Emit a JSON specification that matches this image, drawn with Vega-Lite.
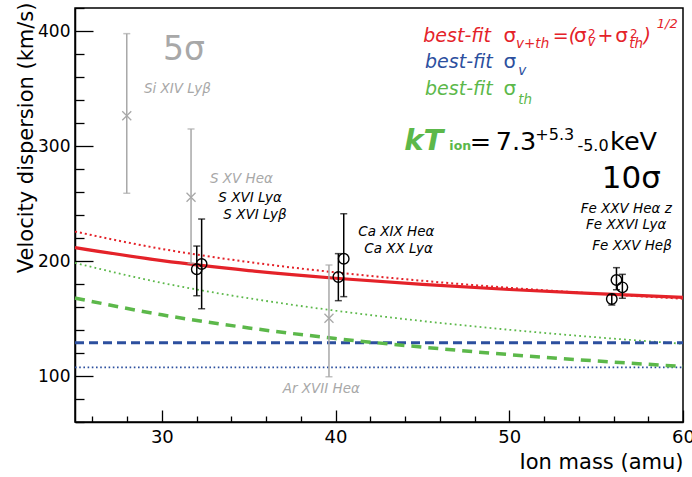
{
  "$schema": "https://vega.github.io/schema/vega-lite/v6.json",
  "width": 608,
  "height": 414,
  "autosize": {"type": "none"},
  "padding": {"left": 75, "top": 8, "right": 9, "bottom": 55},
  "background": "white",
  "config": {
    "font": "DejaVu Sans",
    "view": {"stroke": "black", "strokeWidth": 1.5},
    "text": {"align": "left", "baseline": "alphabetic", "font": "DejaVu Sans"}
  },
  "datasets": {
    "curves": [
      {"curve": "th_bound", "mass": 25, "disp": 198.3},
      {"curve": "th_bound", "mass": 30, "disp": 181.0},
      {"curve": "th_bound", "mass": 35, "disp": 167.6},
      {"curve": "th_bound", "mass": 40, "disp": 156.8},
      {"curve": "th_bound", "mass": 45, "disp": 147.8},
      {"curve": "th_bound", "mass": 50, "disp": 140.2},
      {"curve": "th_bound", "mass": 55, "disp": 133.7},
      {"curve": "th_bound", "mass": 60, "disp": 128.0},
      {"curve": "v_bound", "mass": 25, "disp": 107.5},
      {"curve": "v_bound", "mass": 60, "disp": 107.5},
      {"curve": "sum_bound", "mass": 25, "disp": 225.6},
      {"curve": "sum_bound", "mass": 30, "disp": 210.5},
      {"curve": "sum_bound", "mass": 35, "disp": 199.1},
      {"curve": "sum_bound", "mass": 40, "disp": 190.1},
      {"curve": "sum_bound", "mass": 45, "disp": 182.8},
      {"curve": "sum_bound", "mass": 50, "disp": 176.7},
      {"curve": "sum_bound", "mass": 55, "disp": 171.6},
      {"curve": "sum_bound", "mass": 60, "disp": 167.2},
      {"curve": "v", "mass": 25, "disp": 129},
      {"curve": "v", "mass": 60, "disp": 129},
      {"curve": "th", "mass": 25, "disp": 167.8},
      {"curve": "th", "mass": 30, "disp": 153.2},
      {"curve": "th", "mass": 35, "disp": 141.8},
      {"curve": "th", "mass": 40, "disp": 132.6},
      {"curve": "th", "mass": 45, "disp": 125.1},
      {"curve": "th", "mass": 50, "disp": 118.6},
      {"curve": "th", "mass": 55, "disp": 113.1},
      {"curve": "th", "mass": 60, "disp": 108.3},
      {"curve": "sum", "mass": 25, "disp": 211.7},
      {"curve": "sum", "mass": 30, "disp": 200.3},
      {"curve": "sum", "mass": 35, "disp": 191.7},
      {"curve": "sum", "mass": 40, "disp": 185.0},
      {"curve": "sum", "mass": 45, "disp": 179.7},
      {"curve": "sum", "mass": 50, "disp": 175.2},
      {"curve": "sum", "mass": 55, "disp": 171.6},
      {"curve": "sum", "mass": 60, "disp": 168.4}
    ],
    "lines": [
      {"line": "Si XIV Lyβ", "grp": "5σ", "mass": 27.98, "disp": 326.3, "lo": 258.9, "hi": 397.7},
      {"line": "S XV Heα", "grp": "5σ", "mass": 31.68, "disp": 255.4, "lo": 198.0, "hi": 314.8},
      {"line": "Ar XVII Heα", "grp": "5σ", "mass": 39.62, "disp": 150.2, "lo": 99.4, "hi": 196.5},
      {"line": "S XVI Lyα", "grp": "10σ", "mass": 32.01, "disp": 192.8, "lo": 169.8, "hi": 213.0},
      {"line": "S XVI Lyβ", "grp": "10σ", "mass": 32.29, "disp": 197.4, "lo": 158.5, "hi": 236.5},
      {"line": "Ca XIX Heα", "grp": "10σ", "mass": 40.16, "disp": 186.1, "lo": 165.5, "hi": 206.4},
      {"line": "Ca XX Lyα", "grp": "10σ", "mass": 40.47, "disp": 202.0, "lo": 169.0, "hi": 241.1},
      {"line": "Fe XXV Heβ", "grp": "10σ", "mass": 55.90, "disp": 167.0, "lo": 161.7, "hi": 171.0},
      {"line": "Fe XXV Heα z", "grp": "10σ", "mass": 56.17, "disp": 183.5, "lo": 175.0, "hi": 194.2},
      {"line": "Fe XXVI Lyα", "grp": "10σ", "mass": 56.51, "disp": 177.1, "lo": 167.6, "hi": 188.4}
    ],
    "notes": [
      {"role": "word", "grp": "v+th", "mass": 45.05, "disp": 390.7, "text": "best-fit"},
      {"role": "sym", "grp": "v+th", "mass": 49.66, "disp": 390.7, "text": "σ"},
      {"role": "sub", "grp": "v+th", "mass": 50.39, "disp": 385.0, "text": "v+th"},
      {"role": "word", "grp": "v+th", "mass": 52.50, "disp": 390.7, "text": "=("},
      {"role": "sym", "grp": "v+th", "mass": 53.72, "disp": 390.7, "text": "σ"},
      {"role": "sup", "grp": "v+th", "mass": 54.53, "disp": 394.2, "text": "2"},
      {"role": "sub", "grp": "v+th", "mass": 54.50, "disp": 387.0, "text": "v"},
      {"role": "word", "grp": "v+th", "mass": 55.08, "disp": 390.7, "text": "+"},
      {"role": "sym", "grp": "v+th", "mass": 56.10, "disp": 390.7, "text": "σ"},
      {"role": "sup", "grp": "v+th", "mass": 56.95, "disp": 394.2, "text": "2"},
      {"role": "sub", "grp": "v+th", "mass": 56.90, "disp": 385.0, "text": "th"},
      {"role": "word", "grp": "v+th", "mass": 57.72, "disp": 390.7, "text": ")"},
      {"role": "supit", "grp": "v+th", "mass": 58.49, "disp": 402.3, "text": "1/2"},
      {"role": "word", "grp": "v", "mass": 45.15, "disp": 367.6, "text": "best-fit"},
      {"role": "sym", "grp": "v", "mass": 49.66, "disp": 367.6, "text": "σ"},
      {"role": "sub", "grp": "v", "mass": 50.52, "disp": 361.7, "text": "v"},
      {"role": "word", "grp": "th", "mass": 45.15, "disp": 344.3, "text": "best-fit"},
      {"role": "sym", "grp": "th", "mass": 49.66, "disp": 344.3, "text": "σ"},
      {"role": "sub", "grp": "th", "mass": 50.52, "disp": 336.5, "text": "th"},
      {"role": "line", "grp": "5σ", "mass": 28.97, "disp": 346.1, "text": "Si XIV Lyβ"},
      {"role": "line", "grp": "5σ", "mass": 32.77, "disp": 267.6, "text": "S XV Heα"},
      {"role": "line", "grp": "10σ", "mass": 33.25, "disp": 251.6, "text": "S XVI Lyα"},
      {"role": "line", "grp": "10σ", "mass": 33.54, "disp": 236.3, "text": "S XVI Lyβ"},
      {"role": "line", "grp": "10σ", "mass": 41.31, "disp": 221.7, "text": "Ca XIX Heα"},
      {"role": "line", "grp": "10σ", "mass": 41.65, "disp": 206.7, "text": "Ca XX Lyα"},
      {"role": "line", "grp": "5σ", "mass": 36.96, "disp": 84.96, "text": "Ar XVII Heα"},
      {"role": "line", "grp": "10σ", "mass": 54.11, "disp": 242.0, "text": "Fe XXV Heα z"},
      {"role": "line", "grp": "10σ", "mass": 54.42, "disp": 227.8, "text": "Fe XXVI Lyα"},
      {"role": "line", "grp": "10σ", "mass": 54.78, "disp": 209.6, "text": "Fe XXV Heβ"},
      {"role": "big5", "grp": "5σ", "mass": 30.07, "disp": 374.8, "text": "5σ"},
      {"role": "big10", "grp": "10σ", "mass": 55.32, "disp": 263.2, "text": "10σ"},
      {"role": "kt", "grp": "th", "mass": 43.95, "disp": 296.5, "text": "kT"},
      {"role": "ion", "grp": "th", "mass": 46.55, "disp": 296.5, "text": "ion"},
      {"role": "num", "grp": "fit", "mass": 47.72, "disp": 296.5, "text": "="},
      {"role": "num", "grp": "fit", "mass": 49.22, "disp": 296.5, "text": "7.3"},
      {"role": "script", "grp": "fit", "mass": 51.50, "disp": 305.2, "text": "+5.3"},
      {"role": "script", "grp": "fit", "mass": 53.92, "disp": 295.7, "text": "-5.0"},
      {"role": "num", "grp": "fit", "mass": 55.80, "disp": 296.5, "text": "keV"}
    ]
  },
  "encoding": {
    "x": {
      "field": "mass",
      "type": "quantitative",
      "scale": {"domain": [25, 60], "nice": false, "zero": false},
      "axis": {
        "title": "Ion mass (amu)",
        "values": [26, 28, 30, 32, 34, 36, 38, 40, 42, 44, 46, 48, 50, 52, 54, 56, 58, 60],
        "labelExpr": "datum.value % 10 === 0 ? datum.label : ''",
        "labelOverlap": false,
        "labelFlush": false,
        "labelFont": "DejaVu Sans",
        "labelFontSize": 18,
        "labelColor": "black",
        "labelPadding": 18,
        "tickSize": {"condition": {"test": "datum.value % 10 === 0", "value": -12}, "value": -6},
        "tickColor": "black",
        "tickWidth": 1.3,
        "domainColor": "black",
        "domainWidth": 1.5,
        "grid": false,
        "titleFont": "DejaVu Sans",
        "titleFontSize": 21,
        "titleFontWeight": "normal",
        "titleColor": "black",
        "titleAnchor": "end",
        "titleAlign": "right",
        "titleBaseline": "alphabetic",
        "titleX": 608,
        "titleY": 46
      }
    },
    "y": {
      "field": "disp",
      "type": "quantitative",
      "title": "Velocity dispersion (km/s)",
      "scale": {"domain": [60, 420], "nice": false, "zero": false},
      "axis": {
        "values": [60, 80, 100, 120, 140, 160, 180, 200, 220, 240, 260, 280, 300, 320, 340, 360, 380, 400, 420],
        "labelExpr": "datum.value % 100 === 0 ? datum.label : ''",
        "labelOverlap": false,
        "labelFlush": false,
        "labelFont": "DejaVu Sans",
        "labelFontSize": 17,
        "labelColor": "black",
        "labelPadding": 23,
        "tickSize": {"condition": {"test": "datum.value % 100 === 0", "value": -18}, "value": -9},
        "tickColor": "black",
        "tickWidth": 1.3,
        "domainColor": "black",
        "domainWidth": 1.5,
        "grid": false,
        "titleFont": "DejaVu Sans",
        "titleFontSize": 21,
        "titleFontWeight": "normal",
        "titleColor": "black",
        "titleAngle": -90,
        "titleAlign": "right",
        "titleBaseline": "alphabetic",
        "titleX": -43,
        "titleY": -6
      }
    }
  },
  "layer": [
    {
      "data": {"name": "curves"},
      "transform": [{"filter": "datum.curve === 'th_bound'"}],
      "mark": {"type": "line", "color": "#5cb84a", "strokeWidth": 1.8, "strokeDash": [1.8, 3.2], "interpolate": "monotone"}
    },
    {
      "data": {"name": "curves"},
      "transform": [{"filter": "datum.curve === 'v_bound'"}],
      "mark": {"type": "line", "color": "#2c4f9e", "strokeWidth": 1.8, "strokeDash": [1.6, 2.6]}
    },
    {
      "data": {"name": "curves"},
      "transform": [{"filter": "datum.curve === 'sum_bound'"}],
      "mark": {"type": "line", "color": "#e42229", "strokeWidth": 2, "strokeDash": [2, 3], "interpolate": "monotone"}
    },
    {
      "data": {"name": "curves"},
      "transform": [{"filter": "datum.curve === 'v'"}],
      "mark": {"type": "line", "color": "#2c4f9e", "strokeWidth": 3, "strokeDash": [9, 5]}
    },
    {
      "data": {"name": "curves"},
      "transform": [{"filter": "datum.curve === 'th'"}],
      "mark": {"type": "line", "color": "#5cb84a", "strokeWidth": 3.5, "strokeDash": [10, 7], "interpolate": "monotone"}
    },
    {
      "data": {"name": "curves"},
      "transform": [{"filter": "datum.curve === 'sum'"}],
      "mark": {"type": "line", "color": "#e42229", "strokeWidth": 3.2, "interpolate": "monotone"}
    },
    {
      "data": {"name": "lines"},
      "mark": {"type": "rule", "strokeWidth": 1.5},
      "encoding": {
        "y": {"field": "lo", "type": "quantitative", "title": "Velocity dispersion (km/s)", "scale": {"domain": [60, 420], "nice": false, "zero": false}},
        "y2": {"field": "hi"},
        "color": {"field": "grp", "type": "nominal", "legend": null, "scale": {"domain": ["5σ", "10σ", "v+th", "v", "th", "fit"], "range": ["#a8a8a8", "#000000", "#e42229", "#2c4f9e", "#5cb84a", "#000000"]}}
      }
    },
    {
      "data": {"name": "lines"},
      "mark": {"type": "tick", "orient": "horizontal", "size": 7, "thickness": 1.5},
      "encoding": {
        "y": {"field": "hi", "type": "quantitative", "title": "Velocity dispersion (km/s)", "scale": {"domain": [60, 420], "nice": false, "zero": false}},
        "color": {"field": "grp", "type": "nominal", "legend": null, "scale": {"domain": ["5σ", "10σ", "v+th", "v", "th", "fit"], "range": ["#a8a8a8", "#000000", "#e42229", "#2c4f9e", "#5cb84a", "#000000"]}}
      }
    },
    {
      "data": {"name": "lines"},
      "mark": {"type": "tick", "orient": "horizontal", "size": 7, "thickness": 1.5},
      "encoding": {
        "y": {"field": "lo", "type": "quantitative", "title": "Velocity dispersion (km/s)", "scale": {"domain": [60, 420], "nice": false, "zero": false}},
        "color": {"field": "grp", "type": "nominal", "legend": null, "scale": {"domain": ["5σ", "10σ", "v+th", "v", "th", "fit"], "range": ["#a8a8a8", "#000000", "#e42229", "#2c4f9e", "#5cb84a", "#000000"]}}
      }
    },
    {
      "data": {"name": "lines"},
      "transform": [{"filter": "datum.grp === '5σ'"}],
      "mark": {"type": "point", "shape": "M-1,-1L1,1M-1,1L1,-1", "filled": false, "stroke": "#a8a8a8", "strokeWidth": 1.3, "size": 81, "opacity": 1}
    },
    {
      "data": {"name": "lines"},
      "transform": [{"filter": "datum.grp === '10σ'"}],
      "mark": {"type": "point", "shape": "circle", "filled": false, "stroke": "black", "strokeWidth": 1.4, "size": 110, "opacity": 1}
    },
    {
      "data": {"name": "notes"},
      "transform": [{"filter": "datum.role === 'word'"}],
      "mark": {"type": "text", "fontStyle": "italic", "fontSize": 19},
      "encoding": {
        "text": {"field": "text"},
        "color": {"field": "grp", "type": "nominal", "legend": null, "scale": {"domain": ["5σ", "10σ", "v+th", "v", "th", "fit"], "range": ["#a8a8a8", "#000000", "#e42229", "#2c4f9e", "#5cb84a", "#000000"]}}
      }
    },
    {
      "data": {"name": "notes"},
      "transform": [{"filter": "datum.role === 'sym'"}],
      "mark": {"type": "text", "fontSize": 20},
      "encoding": {
        "text": {"field": "text"},
        "color": {"field": "grp", "type": "nominal", "legend": null, "scale": {"domain": ["5σ", "10σ", "v+th", "v", "th", "fit"], "range": ["#a8a8a8", "#000000", "#e42229", "#2c4f9e", "#5cb84a", "#000000"]}}
      }
    },
    {
      "data": {"name": "notes"},
      "transform": [{"filter": "datum.role === 'sub'"}],
      "mark": {"type": "text", "fontStyle": "italic", "fontSize": 13.5},
      "encoding": {
        "text": {"field": "text"},
        "color": {"field": "grp", "type": "nominal", "legend": null, "scale": {"domain": ["5σ", "10σ", "v+th", "v", "th", "fit"], "range": ["#a8a8a8", "#000000", "#e42229", "#2c4f9e", "#5cb84a", "#000000"]}}
      }
    },
    {
      "data": {"name": "notes"},
      "transform": [{"filter": "datum.role === 'sup'"}],
      "mark": {"type": "text", "fontSize": 12},
      "encoding": {
        "text": {"field": "text"},
        "color": {"field": "grp", "type": "nominal", "legend": null, "scale": {"domain": ["5σ", "10σ", "v+th", "v", "th", "fit"], "range": ["#a8a8a8", "#000000", "#e42229", "#2c4f9e", "#5cb84a", "#000000"]}}
      }
    },
    {
      "data": {"name": "notes"},
      "transform": [{"filter": "datum.role === 'supit'"}],
      "mark": {"type": "text", "fontStyle": "italic", "fontSize": 13},
      "encoding": {
        "text": {"field": "text"},
        "color": {"field": "grp", "type": "nominal", "legend": null, "scale": {"domain": ["5σ", "10σ", "v+th", "v", "th", "fit"], "range": ["#a8a8a8", "#000000", "#e42229", "#2c4f9e", "#5cb84a", "#000000"]}}
      }
    },
    {
      "data": {"name": "notes"},
      "transform": [{"filter": "datum.role === 'line'"}],
      "mark": {"type": "text", "fontStyle": "italic", "fontSize": 13.5},
      "encoding": {
        "text": {"field": "text"},
        "color": {"field": "grp", "type": "nominal", "legend": null, "scale": {"domain": ["5σ", "10σ", "v+th", "v", "th", "fit"], "range": ["#a8a8a8", "#000000", "#e42229", "#2c4f9e", "#5cb84a", "#000000"]}}
      }
    },
    {
      "data": {"name": "notes"},
      "transform": [{"filter": "datum.role === 'big5'"}],
      "mark": {"type": "text", "fontSize": 33},
      "encoding": {
        "text": {"field": "text"},
        "color": {"field": "grp", "type": "nominal", "legend": null, "scale": {"domain": ["5σ", "10σ", "v+th", "v", "th", "fit"], "range": ["#a8a8a8", "#000000", "#e42229", "#2c4f9e", "#5cb84a", "#000000"]}}
      }
    },
    {
      "data": {"name": "notes"},
      "transform": [{"filter": "datum.role === 'big10'"}],
      "mark": {"type": "text", "fontSize": 31},
      "encoding": {
        "text": {"field": "text"},
        "color": {"field": "grp", "type": "nominal", "legend": null, "scale": {"domain": ["5σ", "10σ", "v+th", "v", "th", "fit"], "range": ["#a8a8a8", "#000000", "#e42229", "#2c4f9e", "#5cb84a", "#000000"]}}
      }
    },
    {
      "data": {"name": "notes"},
      "transform": [{"filter": "datum.role === 'kt'"}],
      "mark": {"type": "text", "fontSize": 29, "fontWeight": "bold", "fontStyle": "italic"},
      "encoding": {
        "text": {"field": "text"},
        "color": {"field": "grp", "type": "nominal", "legend": null, "scale": {"domain": ["5σ", "10σ", "v+th", "v", "th", "fit"], "range": ["#a8a8a8", "#000000", "#e42229", "#2c4f9e", "#5cb84a", "#000000"]}}
      }
    },
    {
      "data": {"name": "notes"},
      "transform": [{"filter": "datum.role === 'ion'"}],
      "mark": {"type": "text", "fontSize": 12.5, "fontWeight": "bold"},
      "encoding": {
        "text": {"field": "text"},
        "color": {"field": "grp", "type": "nominal", "legend": null, "scale": {"domain": ["5σ", "10σ", "v+th", "v", "th", "fit"], "range": ["#a8a8a8", "#000000", "#e42229", "#2c4f9e", "#5cb84a", "#000000"]}}
      }
    },
    {
      "data": {"name": "notes"},
      "transform": [{"filter": "datum.role === 'num'"}],
      "mark": {"type": "text", "fontSize": 25.5},
      "encoding": {
        "text": {"field": "text"},
        "color": {"field": "grp", "type": "nominal", "legend": null, "scale": {"domain": ["5σ", "10σ", "v+th", "v", "th", "fit"], "range": ["#a8a8a8", "#000000", "#e42229", "#2c4f9e", "#5cb84a", "#000000"]}}
      }
    },
    {
      "data": {"name": "notes"},
      "transform": [{"filter": "datum.role === 'script'"}],
      "mark": {"type": "text", "fontSize": 16},
      "encoding": {
        "text": {"field": "text"},
        "color": {"field": "grp", "type": "nominal", "legend": null, "scale": {"domain": ["5σ", "10σ", "v+th", "v", "th", "fit"], "range": ["#a8a8a8", "#000000", "#e42229", "#2c4f9e", "#5cb84a", "#000000"]}}
      }
    }
  ]
}
